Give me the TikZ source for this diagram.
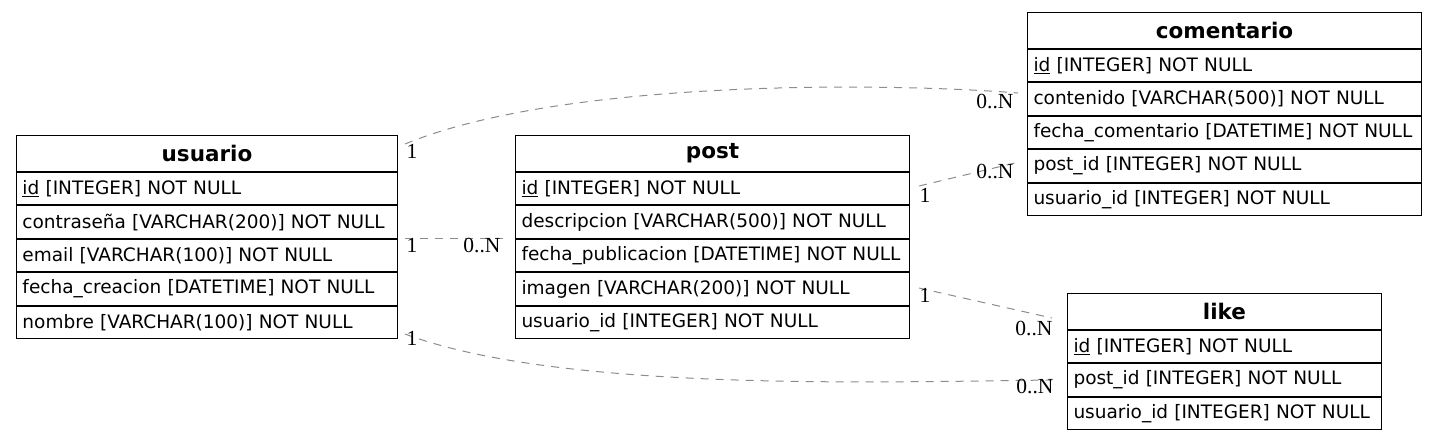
\documentclass[tikz,border=0pt]{standalone}
\usepackage{fontspec}
\usepackage{tikz}
\usetikzlibrary{positioning}
\newfontfamily\dvs{DejaVu Sans}
\newfontfamily\lbs{Liberation Serif}
\definecolor{relgray}{RGB}{140,140,140}
\tikzset{
  tabhead/.style={draw,line width=1pt,inner xsep=6pt,inner ysep=0pt,minimum height=36pt,font=\dvs\bfseries\fontsize{21.5}{24}\selectfont,align=center},
  tabrow/.style={draw,line width=1pt,inner xsep=6pt,inner ysep=0pt,minimum height=32.4pt,font=\dvs\fontsize{18.5}{21}\selectfont,align=left},
  rel/.style={relgray,dashed,dash pattern=on 8pt off 7pt,line width=1pt},
  card/.style={font=\lbs\fontsize{21.5}{24}\selectfont,inner sep=0pt}
}
\newcommand{\pk}[1]{\underline{#1}}
\newcommand{\fld}[1]{\makebox[\linewidth][l]{#1}}

\begin{document}
\begin{tikzpicture}[x=1pt,y=-1pt]
  \useasboundingbox (0,0) rectangle (1436,440);
  % usuario
  \node[tabhead,text width=369pt,anchor=north west] (usuario) at (16,135) {usuario};
  \node[tabrow,text width=369pt,below=0pt of usuario] (usuario1) {\fld{\pk{id} [INTEGER] NOT NULL}};
  \node[tabrow,text width=369pt,below=0pt of usuario1] (usuario2) {\fld{contraseña [VARCHAR(200)] NOT NULL}};
  \node[tabrow,text width=369pt,below=0pt of usuario2] (usuario3) {\fld{email [VARCHAR(100)] NOT NULL}};
  \node[tabrow,text width=369pt,below=0pt of usuario3] (usuario4) {\fld{fecha\_creacion [DATETIME] NOT NULL}};
  \node[tabrow,text width=369pt,below=0pt of usuario4] (usuario5) {\fld{nombre [VARCHAR(100)] NOT NULL}};
  % post
  \node[tabhead,text width=382pt,anchor=north west] (post) at (515,135) {post};
  \node[tabrow,text width=382pt,below=0pt of post] (post1) {\fld{\pk{id} [INTEGER] NOT NULL}};
  \node[tabrow,text width=382pt,below=0pt of post1] (post2) {\fld{descripcion [VARCHAR(500)] NOT NULL}};
  \node[tabrow,text width=382pt,below=0pt of post2] (post3) {\fld{fecha\_publicacion [DATETIME] NOT NULL}};
  \node[tabrow,text width=382pt,below=0pt of post3] (post4) {\fld{imagen [VARCHAR(200)] NOT NULL}};
  \node[tabrow,text width=382pt,below=0pt of post4] (post5) {\fld{usuario\_id [INTEGER] NOT NULL}};
  % comentario
  \node[tabhead,text width=382pt,anchor=north west] (comentario) at (1027,12) {comentario};
  \node[tabrow,text width=382pt,below=0pt of comentario] (comentario1) {\fld{\pk{id} [INTEGER] NOT NULL}};
  \node[tabrow,text width=382pt,below=0pt of comentario1] (comentario2) {\fld{contenido [VARCHAR(500)] NOT NULL}};
  \node[tabrow,text width=382pt,below=0pt of comentario2] (comentario3) {\fld{fecha\_comentario [DATETIME] NOT NULL}};
  \node[tabrow,text width=382pt,below=0pt of comentario3] (comentario4) {\fld{post\_id [INTEGER] NOT NULL}};
  \node[tabrow,text width=382pt,below=0pt of comentario4] (comentario5) {\fld{usuario\_id [INTEGER] NOT NULL}};
  % like
  \node[tabhead,text width=302pt,anchor=north west] (like) at (1067,293) {like};
  \node[tabrow,text width=302pt,below=0pt of like] (like1) {\fld{\pk{id} [INTEGER] NOT NULL}};
  \node[tabrow,text width=302pt,below=0pt of like1] (like2) {\fld{post\_id [INTEGER] NOT NULL}};
  \node[tabrow,text width=302pt,below=0pt of like2] (like3) {\fld{usuario\_id [INTEGER] NOT NULL}};
  % relation ends
  \coordinate (uc) at ([xshift=7pt,yshift=-9pt]usuario.north east);
  \coordinate (cu) at ([xshift=-9pt,yshift=-81pt]comentario.north west);
  \coordinate (up) at ([xshift=7pt,yshift=-103pt]usuario.north east);
  \coordinate (pu) at ([xshift=-7pt,yshift=-103pt]post.north west);
  \coordinate (ul) at ([xshift=7pt,yshift=-199pt]usuario.north east);
  \coordinate (lu) at ([xshift=-15pt,yshift=-87pt]like.north west);
  \coordinate (pc) at ([xshift=9pt,yshift=-51pt]post.north east);
  \coordinate (cp) at ([xshift=-12pt,yshift=-151pt]comentario.north west);
  \coordinate (pl) at ([xshift=9pt,yshift=-153pt]post.north east);
  \coordinate (lp) at ([xshift=-15pt,yshift=-25pt]like.north west);
  \draw[rel] (uc) .. controls (560,80) and (880,82) .. (cu);
  \draw[rel] (up) -- (pu);
  \draw[rel] (ul) .. controls (560,392) and (880,382) .. (lu);
  \draw[rel] (pc) -- (cp);
  \draw[rel] (pl) -- (lp);
  % cardinalities
  \node[card] (uc1) at (412,151) {1};
  \node[card] (cu1) at (995,101) {0..N};
  \node[card] (up1) at (412,245) {1};
  \node[card] (pu1) at (482,245) {0..N};
  \node[card] (ul1) at (412,338) {1};
  \node[card] (lu1) at (1035,386) {0..N};
  \node[card] (pc1) at (925,195) {1};
  \node[card] (cp1) at (995,171) {0..N};
  \node[card] (pl1) at (925,295) {1};
  \node[card] (lp1) at (1034,328) {0..N};
\end{tikzpicture}
\end{document}
